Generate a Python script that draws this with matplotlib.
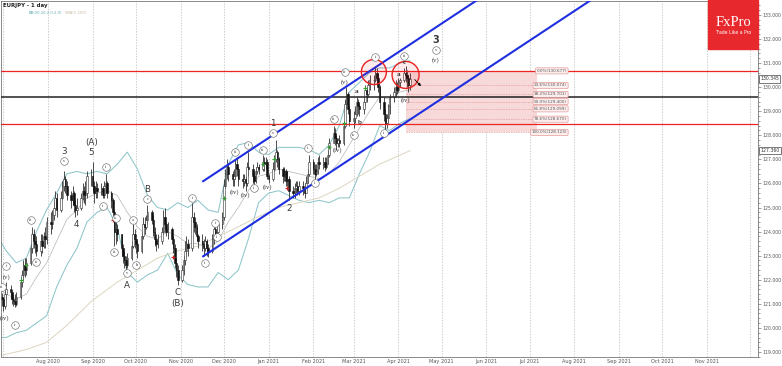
import matplotlib
matplotlib.use('Agg')
import matplotlib.pyplot as plt
import matplotlib.dates as mdates
from matplotlib.patches import Ellipse, Rectangle
from matplotlib.ticker import MultipleLocator, FormatStrFormatter
import numpy as np
import pandas as pd

# EURJPY daily candles, one row per week (Mon..Fri), 29 Jun 2020 - 9 Apr 2021
first_open = 121.20
close = [
    121.30, 121.20, 120.90, 121.40, 121.60,
    121.50, 121.20, 121.10, 121.00, 121.30,
    121.90, 122.20, 122.60, 122.40, 122.70,
    123.30, 123.90, 123.60, 123.50, 123.20,
    123.60, 123.40, 123.80, 123.70, 124.40,
    124.30, 124.70, 125.00, 125.40, 124.90,
    125.40, 125.90, 126.20, 125.90, 125.50,
    125.30, 125.60, 125.10, 124.90, 125.00,
    125.40, 125.70, 125.50, 125.60, 126.30,
    126.30, 125.90, 125.60, 125.80, 125.70,
    125.80, 125.50, 125.90, 126.00, 125.60,
    125.30, 124.80, 124.00, 124.10, 123.90,
    123.30, 123.00, 122.80, 122.60, 122.90,
    123.40, 123.90, 123.70, 123.50, 123.20,
    123.80, 124.30, 124.20, 124.50, 124.80,
    124.50, 124.00, 123.70, 123.50, 123.60,
    124.00, 124.60, 124.30, 124.00, 124.10,
    123.70, 123.30, 122.70, 122.40, 122.00,
    122.40, 122.80, 123.20, 123.50, 123.30,
    124.60, 124.40, 124.20, 123.80, 123.60,
    123.50, 123.30, 123.60, 123.30, 123.20,
    123.70, 124.10, 123.90, 124.00, 124.30,
    124.60, 125.90, 126.40, 126.70, 126.40,
    126.20, 126.30, 126.80, 126.60, 126.20,
    126.10, 126.20, 126.00, 126.70, 126.60,
    126.30, 126.10, 126.50, 126.70, 126.60,
    126.90, 126.80, 126.90, 126.30, 126.20,
    126.60, 127.00, 127.30, 127.00, 126.60,
    126.30, 126.50, 126.10, 126.20, 125.70,
    125.60, 125.80, 125.90, 125.70, 125.90,
    125.80, 125.60, 126.00, 126.40, 126.90,
    126.60, 126.40, 126.50, 126.90, 126.80,
    126.90, 126.70, 126.80, 127.20, 127.70,
    128.10, 127.90, 127.70, 127.80, 127.70,
    128.40, 129.30, 129.70, 129.10, 128.60,
    128.70, 128.90, 129.40, 129.20, 129.10,
    129.40, 129.90, 129.70, 130.10, 130.30,
    130.30, 130.60, 130.40, 130.00, 129.40,
    128.90, 128.50, 128.70, 129.20, 129.60,
    129.80, 130.00, 129.90, 130.20, 130.30,
    130.60, 130.50, 130.40, 130.10, 130.345,
]
high = [
    121.45, 121.45, 121.30, 121.60, 121.90,
    121.80, 121.60, 121.40, 121.40, 121.50,
    122.10, 122.40, 122.80, 122.90, 122.90,
    123.50, 124.20, 124.10, 123.90, 123.80,
    123.90, 123.90, 124.00, 124.20, 124.60,
    124.80, 124.90, 125.30, 125.70, 125.60,
    125.70, 126.10, 126.50, 126.30, 126.10,
    125.70, 125.90, 125.70, 125.30, 125.40,
    125.60, 126.00, 125.90, 126.10, 126.50,
    126.60, 126.90, 126.10, 126.10, 126.00,
    126.00, 125.90, 126.10, 126.40, 126.10,
    125.70, 125.40, 124.90, 124.40, 124.30,
    123.90, 123.50, 123.20, 123.00, 123.10,
    123.60, 124.30, 124.10, 123.90, 123.60,
    124.00, 124.60, 124.60, 124.70, 125.10,
    124.90, 124.70, 124.20, 123.90, 123.90,
    124.20, 124.90, 125.00, 124.40, 124.40,
    124.20, 123.80, 123.50, 122.90, 122.60,
    122.60, 123.00, 123.60, 123.80, 123.70,
    125.20, 124.80, 124.60, 124.30, 123.90,
    123.90, 123.70, 123.80, 123.70, 123.50,
    123.90, 124.20, 124.30, 124.20, 124.40,
    124.80, 126.20, 126.60, 127.00, 126.80,
    126.50, 126.60, 127.00, 127.10, 126.70,
    126.40, 126.40, 126.30, 126.90, 127.30,
    126.80, 126.50, 126.70, 126.90, 126.80,
    127.20, 127.10, 127.10, 127.00, 126.40,
    126.90, 127.20, 127.80, 127.40, 127.10,
    126.70, 126.70, 126.60, 126.50, 126.30,
    125.90, 126.00, 126.10, 126.10, 126.10,
    126.10, 126.00, 126.30, 126.60, 127.20,
    127.00, 126.80, 126.80, 127.10, 127.20,
    127.10, 127.10, 127.10, 127.40, 127.90,
    128.40, 128.30, 128.00, 127.90, 128.00,
    128.60, 129.50, 130.00, 129.80, 129.20,
    129.00, 129.20, 129.60, 129.50, 129.30,
    129.60, 130.10, 130.00, 130.30, 130.50,
    130.50, 130.90, 130.80, 130.60, 130.10,
    129.60, 129.10, 128.90, 129.30, 129.70,
    130.00, 130.30, 130.20, 130.40, 130.40,
    130.80, 130.90, 130.70, 130.50, 130.60,
]
low = [
    120.90, 120.90, 120.70, 120.80, 121.20,
    121.20, 121.00, 120.90, 120.85, 120.90,
    121.20, 121.70, 122.00, 122.10, 122.20,
    122.60, 123.10, 123.30, 123.10, 123.00,
    123.00, 123.10, 123.30, 123.30, 123.50,
    123.90, 124.10, 124.50, 124.90, 124.60,
    124.80, 125.30, 125.70, 125.60, 125.30,
    125.00, 125.10, 124.80, 124.60, 124.70,
    124.90, 125.30, 125.20, 125.10, 125.40,
    125.90, 125.70, 125.20, 125.40, 125.40,
    125.50, 125.40, 125.40, 125.60, 125.40,
    125.00, 124.50, 123.40, 123.50, 123.60,
    123.00, 122.70, 122.50, 122.40, 122.50,
    122.80, 123.30, 123.30, 123.10, 122.90,
    123.10, 123.70, 123.90, 124.10, 124.30,
    124.30, 123.80, 123.40, 123.20, 123.30,
    123.50, 123.90, 124.10, 123.80, 123.70,
    123.50, 123.10, 122.50, 122.10, 121.80,
    121.90, 122.20, 122.60, 123.00, 123.00,
    123.20, 124.00, 123.90, 123.60, 123.30,
    123.20, 123.00, 123.20, 123.00, 122.95,
    123.10, 123.50, 123.70, 123.80, 123.90,
    124.10, 124.50, 125.80, 126.20, 126.10,
    125.90, 125.90, 126.20, 126.30, 125.90,
    125.80, 125.90, 125.70, 125.90, 126.30,
    126.00, 125.90, 126.00, 126.40, 126.40,
    126.50, 126.50, 126.60, 126.20, 126.00,
    126.10, 126.50, 126.90, 126.70, 126.40,
    126.00, 126.10, 125.90, 125.90, 125.30,
    125.40, 125.40, 125.60, 125.50, 125.50,
    125.50, 125.40, 125.60, 126.00, 126.30,
    126.40, 126.20, 126.30, 126.40, 126.60,
    126.60, 126.50, 126.60, 126.80, 127.10,
    127.70, 127.60, 127.40, 127.50, 127.50,
    127.60, 128.30, 129.10, 128.90, 128.40,
    128.30, 128.50, 128.80, 128.90, 128.80,
    128.90, 129.20, 129.40, 129.60, 129.90,
    129.90, 130.20, 130.10, 129.80, 129.10,
    128.60, 128.20, 128.30, 128.50, 128.90,
    129.40, 129.60, 129.70, 129.80, 130.00,
    130.20, 130.20, 130.00, 129.80, 129.90,
]

# indicator readings (first day, then every Friday)
bb_upper = [123.6, 123.2, 122.7, 122.9, 124.0, 124.9, 125.6, 126.4, 126.5, 126.4,
            126.5, 126.4, 126.8, 127.3, 126.6, 125.5, 125.0, 124.9, 125.2, 125.0,
            125.3, 124.9, 124.8, 126.8, 127.6, 127.7, 127.3, 127.2, 127.5, 127.5,
            127.5, 127.4, 127.2, 127.6, 128.4, 129.8, 130.2, 130.6, 130.8, 130.8,
            131.0, 131.1]
bb_mid = [121.6, 121.4, 121.2, 121.4, 122.1, 122.7, 123.6, 124.5, 124.9, 125.4,
          125.6, 125.7, 125.5, 124.8, 124.2, 123.8, 123.7, 124.0, 123.8, 123.5,
          123.5, 123.3, 123.6, 124.4, 125.0, 125.7, 126.3, 126.4, 126.6, 126.5,
          126.4, 126.3, 126.2, 126.4, 126.9, 127.6, 128.3, 129.0, 129.6, 129.5,
          129.8, 129.9]
bb_lower = [119.6, 119.6, 119.8, 119.9, 120.2, 120.5, 121.7, 122.6, 123.3, 124.4,
            124.8, 125.0, 124.2, 122.3, 121.9, 122.2, 122.4, 123.1, 122.2, 121.8,
            121.7, 121.7, 122.3, 122.0, 122.4, 123.7, 125.2, 125.6, 125.7, 125.5,
            125.3, 125.2, 125.3, 125.2, 125.4, 125.4, 126.4, 127.3, 128.4, 128.2,
            128.5, 128.7]
sma_dates = ['2020-06-29', '2020-07-17', '2020-07-31', '2020-08-14', '2020-08-31',
             '2020-09-18', '2020-10-02', '2020-10-16', '2020-10-30', '2020-11-13',
             '2020-11-27', '2020-12-11', '2020-12-24', '2021-01-08', '2021-01-22',
             '2021-02-05', '2021-02-19', '2021-03-05', '2021-03-19', '2021-04-09']
sma100 = [118.85, 119.1, 119.4, 120.1, 121.1, 121.9, 122.4, 122.9, 123.2, 123.4,
          123.8, 124.2, 124.6, 125.0, 125.2, 125.4, 125.8, 126.3, 126.8, 127.36]

# drawn levels
fib_pcts = [0.0, 23.6, 38.2, 50.0, 61.8, 78.6, 100.0]
fib_levels = [130.677, 130.074, 129.701, 129.400, 129.099, 128.670, 128.123]
red_levels = [130.677, 128.45]
black_level = 129.61
last_price = 130.345
sma_last = 127.360

# channel (start, end) as (date, price)
chan_upper = [('2020-11-16', 126.07), ('2021-06-01', 133.87)]
chan_lower = [('2020-11-16', 122.95), ('2021-08-31', 134.35)]

# signal crosses
buy_marks = [('2020-07-13', 122.0), ('2020-07-17', 122.6), ('2020-12-01', 125.4),
             ('2020-12-28', 126.8), ('2021-01-05', 127.0), ('2021-02-12', 127.5),
             ('2021-02-22', 128.5), ('2021-03-09', 129.95)]
sell_marks = [('2020-09-15', 124.5), ('2020-10-27', 122.95), ('2021-01-14', 125.8)]

# wave labels
big_labels = [('2020-08-12', 127.31, '3'), ('2020-08-21', 124.28, '4'),
              ('2020-08-31', 127.27, '5'), ('2020-08-31', 127.70, '(A)'),
              ('2020-09-25', 121.78, 'A'), ('2020-10-09', 125.75, 'B'),
              ('2020-10-30', 121.49, 'C'), ('2020-10-30', 121.03, '(B)'),
              ('2021-01-04', 128.51, '1'), ('2021-01-15', 124.98, '2')]
circ_labels = [('2020-06-30', 121.70, 'iii'), ('2020-07-03', 122.57, 'i'),
               ('2020-07-09', 120.12, 'ii'), ('2020-07-20', 124.48, 'iii'),
               ('2020-07-24', 122.74, 'iv'), ('2020-08-12', 126.93, 'v'),
               ('2020-09-08', 125.06, 'i'), ('2020-09-10', 126.69, 'ii'),
               ('2020-09-16', 123.15, 'iii'), ('2020-09-17', 124.57, 'iv'),
               ('2020-09-25', 122.28, 'v'), ('2020-09-29', 124.48, 'a'),
               ('2020-10-01', 122.61, 'b'), ('2020-10-09', 125.36, 'c'),
               ('2020-11-09', 125.40, 'i'), ('2020-11-18', 122.70, 'ii'),
               ('2020-11-25', 124.36, 'i'), ('2020-11-26', 123.78, 'ii'),
               ('2020-12-09', 127.31, 'iii'), ('2020-12-18', 127.60, 'i'),
               ('2020-12-22', 125.81, 'ii'), ('2020-12-28', 127.39, 'iii'),
               ('2021-01-04', 128.10, 'v'), ('2021-01-28', 127.47, 'i'),
               ('2021-02-02', 126.02, 'ii'), ('2021-02-15', 128.68, 'iii'),
               ('2021-02-23', 130.63, 'iii'), ('2021-03-01', 128.01, 'iv'),
               ('2021-03-16', 131.26, 'i'), ('2021-03-22', 128.10, 'ii'),
               ('2021-04-05', 131.30, 'iii'), ('2021-04-27', 131.55, 'v')]
paren_labels = [('2020-07-03', 122.12, '(v)'), ('2020-07-02', 120.41, '(iv)'),
                ('2020-12-08', 125.65, '(iv)'), ('2020-12-16', 125.52, '(iv)'),
                ('2020-12-31', 125.85, '(iv)'), ('2021-02-18', 127.39, '(iv)'),
                ('2021-02-23', 130.22, '(v)'), ('2021-04-06', 129.47, '(iv)'),
                ('2021-04-27', 131.13, '(v)')]
small_letters = [('2021-03-03', 129.80, 'a'), ('2021-03-05', 128.55, 'b'),
                 ('2021-04-01', 130.51, 'a'), ('2021-04-05', 131.01, 'c')]

PX_DAY = 1.442     # pixels per calendar day
PX_PRICE = 24.07   # pixels per 1.000


def d(s):
    return mdates.date2num(pd.Timestamp(s))


days = pd.bdate_range('2020-06-29', '2021-04-09')
xd = mdates.date2num(days)
c = np.array(close)
h = np.array(high)
l = np.array(low)
o = np.r_[first_open, c[:-1]]
h = np.maximum(h, np.maximum(o, c))
l = np.minimum(l, np.minimum(o, c))

fig = plt.figure(figsize=(7.82, 3.66), dpi=100)
ax = fig.add_axes([1 / 782, 9 / 366, 757 / 782, 356 / 366])
aug1 = d('2020-08-01')
ax.set_xlim(aug1 - 32.6, aug1 + 492.4)
ax.set_ylim(118.79, 133.58)

# month grid
for m in pd.date_range('2020-07-01', '2021-12-01', freq='MS'):
    ax.axvline(mdates.date2num(m), color='#b8b8b8', lw=0.5, ls=(0, (2, 2)), zorder=0)

# indicators
bb_x = mdates.date2num(pd.DatetimeIndex(['2020-06-29']).append(
    pd.date_range('2020-07-03', '2021-04-09', freq='W-FRI')))
ax.plot(bb_x, bb_upper, color='#8ec6ca', lw=0.75, zorder=1)
ax.plot(bb_x, bb_lower, color='#8ec6ca', lw=0.75, zorder=1)
ax.plot(bb_x, bb_mid, color='#b5b5b5', lw=0.5, zorder=1)
ax.plot(mdates.date2num(pd.DatetimeIndex(sma_dates)), sma100, color='#dcd5c0', lw=0.7, zorder=1)

# fib zone
z0, z1 = d('2021-04-06'), d('2021-07-06')
ax.fill_between([z0, z1], fib_levels[-1], fib_levels[0], color='#f7d9d9', lw=0, zorder=0.5)
for p, v in zip(fib_pcts, fib_levels):
    ax.plot([z0, z1], [v, v], color='#e39a9a', lw=0.5, ls=(0, (2, 1.5)), zorder=0.6)
    ax.text(d('2021-07-27'), v, '%.1f%%(%.3f)' % (p, v), fontsize=3, color='#555555',
            ha='right', va='center', zorder=6,
            bbox=dict(boxstyle='round,pad=0.25', fc='#fdeeee', ec='#e39a9a', lw=0.5))

# candles
ax.vlines(xd, l, h, color='#1e1e1e', lw=0.55, zorder=2)
up = c >= o
ax.bar(xd[up], (c - o)[up], bottom=o[up], width=1.05, color='white',
       edgecolor='#2e2e2e', linewidth=0.4, zorder=2.1)
ax.bar(xd[~up], (c - o)[~up], bottom=o[~up], width=1.05, color='#111111',
       edgecolor='#111111', linewidth=0.4, zorder=2.1)

# horizontal levels
for v in red_levels:
    ax.axhline(v, color='#ec2424', lw=0.9, zorder=3)
ax.axhline(black_level, color='#222222', lw=1.1, zorder=3)

# channel
for seg in (chan_upper, chan_lower):
    ax.plot([d(seg[0][0]), d(seg[1][0])], [seg[0][1], seg[1][1]], color='#1f2fe0',
            lw=1.5, zorder=3.5, solid_capstyle='butt')

# signal crosses
ax.scatter([d(a) for a, b in buy_marks], [b for a, b in buy_marks], marker='+',
           s=9, color='#2ea02e', lw=0.8, zorder=4)
ax.scatter([d(a) for a, b in sell_marks], [b for a, b in sell_marks], marker='+',
           s=9, color='#d42020', lw=0.8, zorder=4)

# red circles
for cd, cp, r in [('2021-03-15', 130.63, 12.5), ('2021-04-06', 130.51, 13.5)]:
    ax.add_patch(Ellipse((d(cd), cp), 2 * r / PX_DAY, 2 * r / PX_PRICE,
                         fc=(1, 0, 0, 0.08), ec='#ea2020', lw=1.0, zorder=4.5))

ax.annotate('', xy=(d('2021-04-18'), 129.96), xytext=(d('2021-04-11'), 130.40),
            arrowprops=dict(arrowstyle='-|>', color='black', lw=0.6, mutation_scale=4),
            zorder=6)

# wave labels
for dt, p, t in big_labels:
    ax.text(d(dt), p, t, fontsize=6.3, color='#3a3a3a', ha='center', va='center', zorder=6)
ax.text(d('2021-04-27'), 131.96, '3', fontsize=7, weight='bold', color='#3a3a3a',
        ha='center', va='center', zorder=6)
ax.scatter([d(a) for a, b, t in circ_labels], [b for a, b, t in circ_labels], s=30,
           facecolor='white', edgecolor='#707070', lw=0.45, zorder=6)
for dt, p, t in circ_labels:
    ax.text(d(dt), p, t, fontsize=3.2, family='Liberation Serif', color='#333333',
            ha='center', va='center', zorder=7)
for dt, p, t in paren_labels:
    ax.text(d(dt), p, t, fontsize=4.8, family='Liberation Serif', color='#333333',
            ha='center', va='center', zorder=6)
for dt, p, t in small_letters:
    ax.text(d(dt), p, t, fontsize=5, family='Liberation Serif', weight='bold',
            color='#333333', ha='center', va='center', zorder=6)

# axes styling
ax.yaxis.tick_right()
ax.yaxis.set_major_locator(MultipleLocator(1))
ax.yaxis.set_minor_locator(MultipleLocator(0.2))
ax.yaxis.set_major_formatter(FormatStrFormatter('%.3f'))
ax.tick_params(axis='y', which='major', labelsize=3.3, length=2.5, width=0.4, pad=1,
               colors='#555555')
ax.tick_params(axis='y', which='minor', length=1.3, width=0.4, colors='#555555')
ticks = pd.date_range('2020-08-01', '2021-11-01', freq='MS')
ax.set_xticks(mdates.date2num(ticks))
ax.set_xticklabels([t.strftime('%b %Y') for t in ticks])
ax.tick_params(axis='x', labelsize=3.6, length=0, pad=1.5, colors='#555555')
for s in ax.spines.values():
    s.set_color('#777777')
    s.set_linewidth(0.6)

for v in (last_price, sma_last):
    ax.text(1.003, v, '%.3f' % v, transform=ax.get_yaxis_transform(), fontsize=3.3,
            color='#333333', va='center', ha='left', clip_on=False, zorder=8,
            bbox=dict(boxstyle='square,pad=0.25', fc='white', ec='#444444', lw=0.5))

# header
fig.text(3 / 782, 1 - 6 / 366, 'EURJPY - 1 day', fontsize=3.9, weight='bold',
         color='#222222', va='center')
fig.text(29 / 782, 1 - 13 / 366, 'BB(20,20,2.0,2.0)', fontsize=2.7, color='#5fa9b0',
         va='center')
fig.text(65 / 782, 1 - 13 / 366, 'SMA(C,100)', fontsize=2.7, color='#c6b99c', va='center')

# logo
fig.add_artist(Rectangle((708 / 782, 1 - 49 / 366), 50 / 782, 49 / 366,
                         transform=fig.transFigure, color='#e7292d', zorder=10))
fig.text(733 / 782, 1 - 22 / 366, 'FxPro', fontsize=10.5, family='Liberation Serif',
         color='white', ha='center', va='center', zorder=11)
fig.text(733 / 782, 1 - 32 / 366, 'Trade Like a Pro', fontsize=3.3, color='white',
         ha='center', va='center', zorder=11)

fig.savefig('out.png', dpi=100)
